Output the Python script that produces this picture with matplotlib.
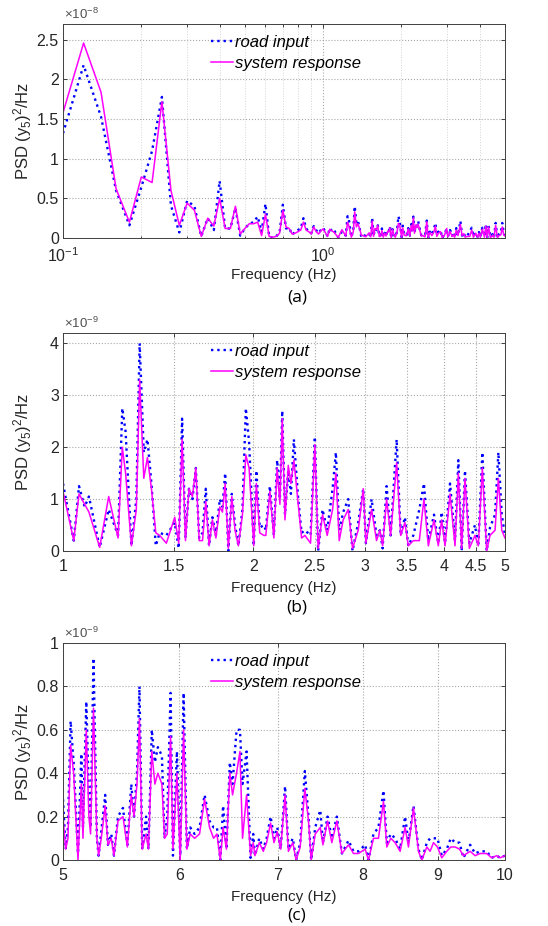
import numpy as np
import matplotlib
matplotlib.use('Agg')
import matplotlib.pyplot as plt
from matplotlib.ticker import FixedLocator, FixedFormatter, NullFormatter, LogLocator, NullLocator

plt.rcParams['font.family'] = ['Liberation Sans', 'DejaVu Sans']
plt.rcParams['mathtext.fontset'] = 'custom'
plt.rcParams['mathtext.rm'] = 'Liberation Sans'
plt.rcParams['mathtext.it'] = 'Liberation Sans:italic'
plt.rcParams['mathtext.default'] = 'regular'

# ---------------- data (PSD values in units of 1e-9 (y5)^2/Hz) ----------------
low_freq = [0.10, 0.12, 0.14, 0.16, 0.18, 0.20, 0.22, 0.24, 0.26, 0.28,
            0.30, 0.32, 0.34, 0.36, 0.38, 0.40, 0.42, 0.44, 0.46, 0.48,
            0.50, 0.52, 0.54, 0.56, 0.58, 0.60, 0.62, 0.64, 0.66, 0.68,
            0.70, 0.72, 0.74, 0.76, 0.78, 0.80, 0.82, 0.84, 0.86, 0.88,
            0.90, 0.92, 0.94, 0.96, 0.98]
low_road = [13.2, 21.8, 15.3, 6.0, 1.6, 6.4, 11.0, 17.8, 4.1, 0.7,
            4.7, 4.0, 0.2, 2.5, 1.0, 7.2, 1.2, 1.2, 3.8, 0.3,
            1.2, 1.8, 2.0, 2.7, 0.8, 4.3, 0.2, 0.0, 0.2, 0.7,
            4.2, 1.2, 1.3, 0.4, 0.8, 1.0, 1.2, 2.5, 1.2, 0.8,
            0.6, 1.5, 1.0, 0.6, 1.0]
low_resp = [15.8, 24.6, 18.4, 6.2, 2.0, 7.7, 7.0, 17.2, 6.0, 1.6,
            4.4, 3.5, 0.2, 2.5, 1.5, 5.0, 1.2, 1.2, 4.0, 0.5,
            1.2, 1.8, 1.8, 2.0, 0.3, 3.0, 0.2, 0.1, 0.2, 0.6,
            3.5, 1.4, 1.2, 0.5, 0.6, 0.8, 1.0, 2.0, 1.0, 0.8,
            0.5, 1.4, 0.8, 0.5, 0.9]

mid_freq = [1.000, 1.040, 1.060, 1.082, 1.099, 1.143, 1.181, 1.222, 1.241, 1.256,
            1.283, 1.306, 1.322, 1.342, 1.360, 1.380, 1.402, 1.422, 1.457, 1.502,
            1.524, 1.543, 1.562, 1.582, 1.602, 1.622, 1.642, 1.662, 1.682, 1.702,
            1.723, 1.745, 1.770, 1.787, 1.805, 1.826, 1.849, 1.871, 1.894, 1.922,
            1.946, 1.969, 2.003, 2.022, 2.047, 2.078, 2.093, 2.124, 2.155, 2.181,
            2.203, 2.222, 2.244, 2.271, 2.293, 2.318, 2.355, 2.384, 2.413, 2.463,
            2.502, 2.532, 2.573, 2.617, 2.669, 2.701, 2.734, 2.774, 2.825, 2.870,
            2.930, 2.984, 3.013, 3.076, 3.132, 3.171, 3.202, 3.249, 3.297, 3.370,
            3.420, 3.473, 3.516, 3.581, 3.660, 3.722, 3.782, 3.861, 3.922, 3.970,
            4.019, 4.093, 4.168, 4.219, 4.270, 4.322, 4.391, 4.482, 4.537, 4.604,
            4.677, 4.734, 4.822, 4.881, 4.941, 5.000]
mid_road = [1.30, 0.20, 1.25, 0.85, 1.05, 0.07, 0.80, 0.30, 2.75, 2.30,
            0.10, 1.00, 4.00, 1.90, 2.15, 1.30, 0.10, 0.35, 0.30, 0.55,
            0.05, 2.55, 0.25, 1.20, 1.00, 1.60, 0.25, 0.35, 1.20, 0.10,
            0.65, 0.30, 1.00, 0.85, 1.50, 0.00, 1.10, 0.50, 0.10, 0.80,
            2.75, 2.10, 0.10, 1.55, 0.45, 0.50, 0.40, 1.25, 0.30, 1.75,
            1.00, 2.70, 0.70, 1.55, 1.10, 2.15, 1.00, 0.35, 0.40, 0.30,
            2.20, 0.00, 0.80, 0.40, 1.20, 1.90, 0.40, 0.75, 1.00, 0.00,
            0.55, 1.20, 0.15, 1.00, 0.30, 0.40, 0.05, 1.25, 0.30, 2.15,
            0.30, 0.65, 0.10, 0.30, 0.80, 1.30, 0.20, 0.70, 0.15, 0.75,
            0.15, 1.30, 0.20, 1.75, 0.00, 1.55, 0.15, 0.50, 0.10, 1.90,
            0.00, 0.45, 0.70, 1.90, 0.70, 0.30]
mid_resp = [1.15, 0.20, 1.10, 0.90, 0.75, 0.07, 1.05, 0.25, 2.00, 1.50,
            0.10, 0.80, 3.30, 1.40, 1.80, 1.20, 0.35, 0.30, 0.15, 0.65,
            0.15, 2.15, 0.20, 1.20, 1.05, 1.60, 0.20, 0.20, 0.95, 0.10,
            0.60, 0.25, 0.85, 0.75, 1.30, 0.05, 1.05, 0.40, 0.10, 0.70,
            1.85, 1.60, 0.10, 1.30, 0.35, 0.30, 0.30, 1.15, 0.25, 1.60,
            0.90, 2.55, 0.60, 1.65, 1.30, 1.75, 0.90, 0.25, 0.30, 0.15,
            2.05, 0.05, 0.70, 0.30, 0.80, 1.50, 0.20, 0.60, 0.80, 0.05,
            0.40, 1.20, 0.15, 0.80, 0.20, 0.40, 0.10, 1.00, 0.30, 1.70,
            0.30, 0.55, 0.10, 0.20, 0.20, 1.00, 0.10, 0.60, 0.10, 0.60,
            0.10, 1.10, 0.10, 1.50, 0.05, 1.40, 0.05, 0.30, 0.10, 1.60,
            0.00, 0.30, 0.40, 1.40, 0.40, 0.25]

high_freq = [5.000, 5.021, 5.039, 5.060, 5.084, 5.119, 5.146, 5.159, 5.186, 5.207,
             5.221, 5.245, 5.273, 5.287, 5.309, 5.342, 5.365, 5.393, 5.416, 5.450,
             5.493, 5.531, 5.565, 5.589, 5.615, 5.637, 5.661, 5.696, 5.717, 5.747,
             5.775, 5.802, 5.839, 5.863, 5.888, 5.919, 5.941, 5.978, 6.009, 6.041,
             6.072, 6.104, 6.146, 6.194, 6.243, 6.292, 6.332, 6.365, 6.399, 6.427,
             6.461, 6.495, 6.523, 6.564, 6.599, 6.626, 6.668, 6.710, 6.738, 6.756,
             6.802, 6.845, 6.881, 6.924, 6.961, 6.997, 7.034, 7.083, 7.120, 7.169,
             7.207, 7.253, 7.306, 7.348, 7.379, 7.426, 7.485, 7.516, 7.571, 7.622,
             7.682, 7.743, 7.824, 7.885, 7.947, 8.031, 8.073, 8.136, 8.200, 8.265,
             8.308, 8.360, 8.417, 8.483, 8.550, 8.595, 8.663, 8.731, 8.777, 8.846,
             8.892, 8.939, 8.995, 9.056, 9.127, 9.185, 9.248, 9.311, 9.369, 9.468,
             9.542, 9.617, 9.717, 9.793, 9.870, 9.922, 10.000]
high_road = [0.28, 0.05, 0.15, 0.64, 0.45, 0.03, 0.49, 0.15, 0.73, 0.30,
             0.15, 0.93, 0.10, 0.02, 0.13, 0.30, 0.07, 0.12, 0.02, 0.20,
             0.24, 0.07, 0.35, 0.20, 0.40, 0.80, 0.05, 0.20, 0.05, 0.60,
             0.45, 0.52, 0.48, 0.10, 0.20, 0.77, 0.02, 0.50, 0.02, 0.77,
             0.05, 0.15, 0.12, 0.15, 0.30, 0.18, 0.15, 0.15, 0.00, 0.25,
             0.05, 0.45, 0.35, 0.60, 0.60, 0.35, 0.50, 0.01, 0.12, 0.02,
             0.10, 0.05, 0.10, 0.20, 0.10, 0.15, 0.05, 0.34, 0.05, 0.10,
             0.00, 0.08, 0.41, 0.20, 0.00, 0.15, 0.23, 0.08, 0.20, 0.10,
             0.20, 0.03, 0.09, 0.04, 0.04, 0.07, 0.00, 0.12, 0.15, 0.32,
             0.08, 0.12, 0.10, 0.05, 0.20, 0.08, 0.25, 0.05, 0.00, 0.08,
             0.10, 0.10, 0.10, 0.02, 0.05, 0.10, 0.08, 0.08, 0.01, 0.07,
             0.03, 0.04, 0.04, 0.01, 0.02, 0.01, 0.02]
high_resp = [0.20, 0.05, 0.10, 0.53, 0.40, 0.00, 0.35, 0.10, 0.60, 0.20,
             0.12, 0.70, 0.10, 0.02, 0.10, 0.25, 0.07, 0.10, 0.02, 0.18,
             0.20, 0.06, 0.30, 0.20, 0.35, 0.65, 0.05, 0.12, 0.05, 0.50,
             0.35, 0.40, 0.35, 0.10, 0.12, 0.57, 0.05, 0.40, 0.00, 0.60,
             0.05, 0.12, 0.10, 0.12, 0.28, 0.15, 0.10, 0.12, 0.00, 0.15,
             0.05, 0.40, 0.30, 0.40, 0.50, 0.10, 0.30, 0.02, 0.08, 0.02,
             0.08, 0.04, 0.08, 0.17, 0.08, 0.13, 0.05, 0.30, 0.04, 0.08,
             0.00, 0.06, 0.33, 0.18, 0.00, 0.12, 0.15, 0.07, 0.18, 0.08,
             0.18, 0.03, 0.07, 0.03, 0.03, 0.05, 0.00, 0.10, 0.10, 0.27,
             0.06, 0.10, 0.08, 0.04, 0.15, 0.06, 0.24, 0.04, 0.00, 0.06,
             0.04, 0.08, 0.06, 0.01, 0.04, 0.06, 0.06, 0.05, 0.02, 0.04,
             0.02, 0.03, 0.03, 0.01, 0.02, 0.01, 0.02]

series_labels = ['road input', 'system response']
captions = ['(a)', '(b)', '(c)']
b_xticks = [1, 1.5, 2, 2.5, 3, 3.5, 4, 4.5, 5]
b_xticklabels = ['1', '1.5', '2', '2.5', '3', '3.5', '4', '4.5', '5']
c_xticks = [5, 6, 7, 8, 9, 10]
c_xticklabels = ['5', '6', '7', '8', '9', '10']

# ---------------- figure ----------------
W, H = 548, 926
fig = plt.figure(figsize=(W / 100, H / 100), dpi=100)
TXT = '#262626'
BLUE = '#0000FF'
MAG = '#FF00FF'


def make_ax(top, bottom):
    return fig.add_axes([63 / W, 1 - bottom / H, 442 / W, (bottom - top) / H])


def draw(ax, f, road, resp, xlim, ylim, yticks, yticklabels, exponent, height):
    ax.set_xscale('log')
    ax.plot(f, road, color=BLUE, ls=':', lw=1.7, label=series_labels[0])
    ax.plot(f, resp, color=MAG, ls='-', lw=1.1, label=series_labels[1])
    ax.set_xlim(*xlim)
    ax.set_ylim(*ylim)
    ax.yaxis.set_major_locator(FixedLocator(yticks))
    ax.yaxis.set_major_formatter(FixedFormatter(yticklabels))
    ax.tick_params(which='both', direction='in', top=True, right=True,
                   colors=TXT, labelsize=11.5, length=3, width=0.6)
    ax.tick_params(axis='x', which='major', pad=6)
    ax.tick_params(axis='y', which='major', pad=3)
    ax.tick_params(which='minor', length=1.8)
    for s in ax.spines.values():
        s.set_color('#404040')
        s.set_linewidth(0.7)
    ax.grid(True, which='major', ls=':', color='#a8a8a8', lw=0.8)
    ax.set_xlabel('Frequency (Hz)', fontsize=11, color=TXT)
    ax.xaxis.set_label_coords(0.5, -30 / height)
    ax.set_ylabel(r'PSD (y$_5$)$^2$/Hz', fontsize=12, color=TXT)
    ax.yaxis.set_label_coords(-0.066, 0.5)
    ax.text(0.003, 1.008, r'$\times$10$^{%d}$' % exponent, transform=ax.transAxes,
            ha='left', va='bottom', fontsize=9.5, color='#505050')
    ax.legend(loc='upper left', bbox_to_anchor=(0.335, 0.95), frameon=False,
              prop={'style': 'italic', 'size': 12}, handlelength=1.3,
              handletextpad=0.12, labelspacing=0.35, borderpad=0, borderaxespad=0)


# (a) 0.1 - 5 Hz, shown in units of 1e-8
fa = np.array(low_freq + mid_freq)
ra = np.array(low_road + mid_road) / 10.0
sa = np.array(low_resp + mid_resp) / 10.0
ax1 = make_ax(24, 238)
draw(ax1, fa, ra, sa, (0.1, 5.0), (0, 2.7), [0, 0.5, 1, 1.5, 2, 2.5],
     ['0', '0.5', '1', '1.5', '2', '2.5'], -8, 214)
ax1.xaxis.set_major_locator(LogLocator(base=10))
ax1.xaxis.set_minor_locator(LogLocator(base=10, subs=np.arange(2, 10)))
ax1.xaxis.set_minor_formatter(NullFormatter())
ax1.grid(True, which='minor', axis='x', ls=':', color='#d4d4d4', lw=0.7)

# (b) 1 - 5 Hz
ax2 = make_ax(333, 551)
draw(ax2, np.array(mid_freq), np.array(mid_road), np.array(mid_resp), (1, 5), (0, 4.2),
     [0, 1, 2, 3, 4], ['0', '1', '2', '3', '4'], -9, 218)
ax2.xaxis.set_major_locator(FixedLocator(b_xticks))
ax2.xaxis.set_major_formatter(FixedFormatter(b_xticklabels))
ax2.xaxis.set_minor_locator(NullLocator())

# (c) 5 - 10 Hz
ax3 = make_ax(643, 860)
draw(ax3, np.array(high_freq), np.array(high_road), np.array(high_resp), (5, 10), (0, 1.0),
     [0, 0.2, 0.4, 0.6, 0.8, 1.0], ['0', '0.2', '0.4', '0.6', '0.8', '1'], -9, 217)
ax3.xaxis.set_major_locator(FixedLocator(c_xticks))
ax3.xaxis.set_major_formatter(FixedFormatter(c_xticklabels))
ax3.xaxis.set_minor_locator(NullLocator())

for cap, y in zip(captions, [297, 608, 916]):
    fig.text(297 / W, 1 - y / H, cap, ha='center', va='center', fontsize=12.5,
             family=['Open Sans', 'DejaVu Sans'], color='black')

fig.savefig('out.png', dpi=100)
